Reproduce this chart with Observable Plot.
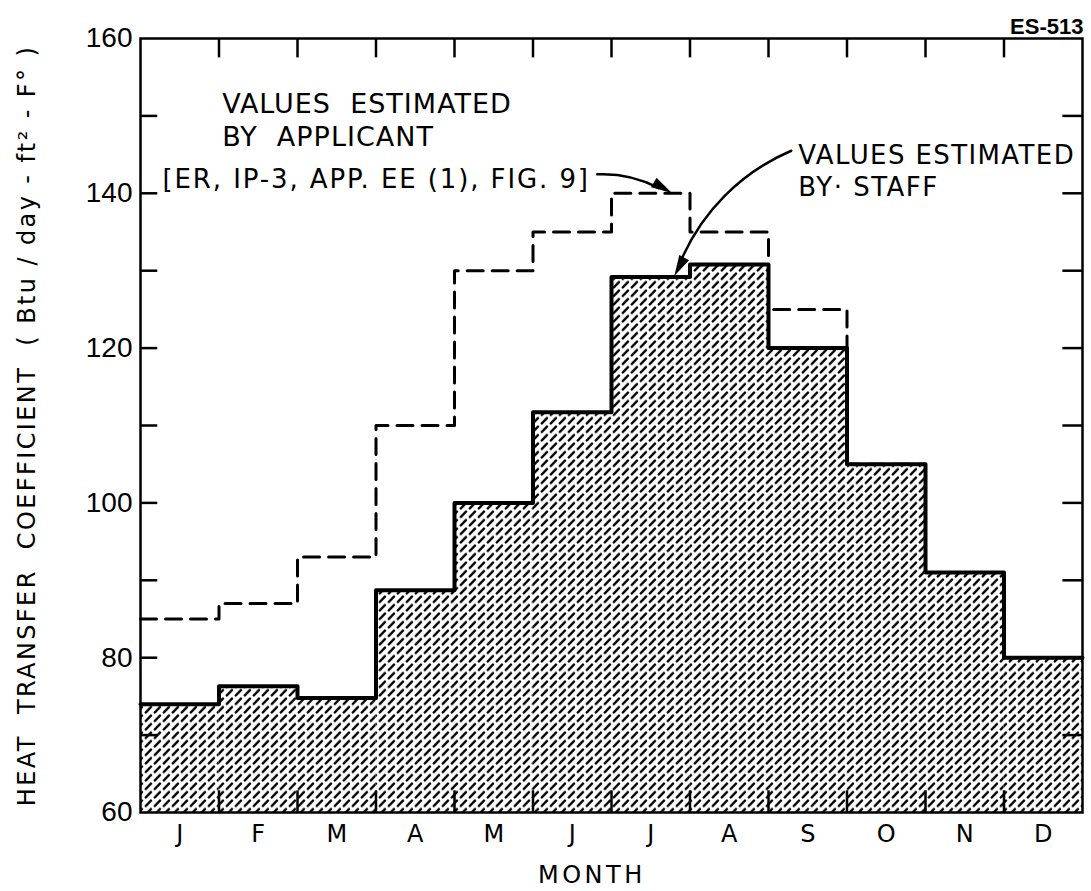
<!DOCTYPE html>
<html><head><meta charset="utf-8">
<script src="https://cdn.jsdelivr.net/npm/d3@7"></script>
<script src="https://cdn.jsdelivr.net/npm/@observablehq/plot@0.6"></script>
<style>body{margin:0;background:#fff} svg text{white-space:pre}</style>
</head><body><div id="chart"></div>
<script>
// ---- data ----
const months = ["J","F","M","A","M","J","J","A","S","O","N","D"];
const staffValues = [74, 76.3, 74.8, 88.7, 100, 111.7, 129.2, 130.8, 120, 105, 91, 80];
const applicantValues = [85, 87, 93, 110, 130, 135, 140, 135, 125, 105, 91, 80];
const yTickLabels = [60, 80, 100, 120, 140, 160];
const yMinorTicks = [70, 80, 90, 100, 110, 120, 130, 140, 150];
const monthBoundaries = [1,2,3,4,5,6,7,8,9,10,11];

// ---- derived tables ----
const idx = d3.range(months.length);
const staffRects = idx.map(i => ({x1: i, x2: i + 1, y: staffValues[i]}));
const stepOf = vals => [...idx.map(i => ({x: i, y: vals[i]})), {x: months.length, y: vals[vals.length - 1]}];
const staffStep = stepOf(staffValues);
const applicantStep = stepOf(applicantValues);

const FONT = "'Liberation Sans', Arial, sans-serif";
const LETTER = "'DejaVu Sans', Verdana, sans-serif";

// filled, elongated arrowhead (tip at origin, pointing up before rotation)
const arrowHead = {draw(ctx) { ctx.moveTo(0, 0); ctx.lineTo(-5.5, 21); ctx.lineTo(5.5, 21); ctx.closePath(); }};

const TITLE = "HEAT  TRANSFER  COEFFICIENT  ( Btu / day - ft² - F° )";
const spacing = new Map([
  [TITLE, 2.4],
  ["MONTH", 3.5],
  ["VALUES  ESTIMATED", 1],
  ["BY  APPLICANT", 1],
  ["[ER, IP-3, APP. EE (1), FIG. 9]", 1.9],
  ["VALUES ESTIMATED", 1.4],
  ["BY· STAFF", 1.5]
]);

const plot = Plot.plot({
  width: 1091, height: 891,
  marginLeft: 140, marginRight: 9, marginTop: 38, marginBottom: 79,
  x: {domain: [0, 12], axis: null},
  y: {domain: [60, 160], axis: null},
  style: {fontFamily: FONT, background: "white", color: "black", overflow: "visible"},
  marks: [
    Plot.rect(staffRects, {x1: "x1", x2: "x2", y1: 60, y2: "y", fill: "url(#hatch)"}),
    Plot.line(applicantStep, {x: "x", y: "y", curve: "step-after", stroke: "black", strokeWidth: 3, strokeDasharray: "16,9"}),
    Plot.line(staffStep, {x: "x", y: "y", curve: "step-after", stroke: "black", strokeWidth: 4}),
    Plot.frame({stroke: "black", strokeWidth: 2.5}),
    Plot.ruleX(monthBoundaries, {x: d => d, y1: 60, y2: 62.8, stroke: "black", strokeWidth: 2.5}),
    Plot.ruleX(monthBoundaries, {x: d => d, y1: 160, y2: 157.5, stroke: "black", strokeWidth: 2.5}),
    Plot.ruleY(yMinorTicks, {y: d => d, x1: 0, x2: 0.22, stroke: "black", strokeWidth: 2.5}),
    Plot.ruleY(yMinorTicks, {y: d => d, x1: 12, x2: 11.75, stroke: "black", strokeWidth: 2.5}),
    Plot.axisY(yTickLabels, {anchor: "left", tickSize: 0, tickPadding: 8, fontSize: 28, tickFormat: d => String(d)}),
    Plot.axisX(idx.map(i => i + 0.5), {anchor: "bottom", tickSize: 0, tickPadding: 12, fontSize: 24, fontFamily: LETTER, tickFormat: d => months[Math.floor(d)]}),
    Plot.text(["MONTH"], {x: 5.75, frameAnchor: "bottom", dy: 70, fontSize: 24, fontFamily: LETTER}),
    Plot.text([TITLE], {frameAnchor: "left", y: 110, dx: -113, rotate: -90, textAnchor: "middle", fontSize: 24, fontFamily: LETTER}),
    Plot.text(["VALUES  ESTIMATED"], {x: 1.04, y: 151.5, textAnchor: "start", fontSize: 27, fontFamily: LETTER}),
    Plot.text(["BY  APPLICANT"], {x: 1.04, y: 147.2, textAnchor: "start", fontSize: 27, fontFamily: LETTER}),
    Plot.text(["[ER, IP-3, APP. EE (1), FIG. 9]"], {x: 0.28, y: 141.8, textAnchor: "start", fontSize: 26, fontFamily: LETTER}),
    Plot.text(["VALUES ESTIMATED"], {x: 8.38, y: 144.9, textAnchor: "start", fontSize: 26, fontFamily: LETTER}),
    Plot.text(["BY· STAFF"], {x: 8.38, y: 140.75, textAnchor: "start", fontSize: 26, fontFamily: LETTER}),
    Plot.text(["ES-513"], {frameAnchor: "top-right", dy: -20, dx: 1, textAnchor: "end", fontSize: 22, fontWeight: "bold"}),
    Plot.arrow([{x1: 5.82, y1: 142.45, x2: 6.6, y2: 140.7}], {x1: "x1", y1: "y1", x2: "x2", y2: "y2", bend: 15, stroke: "black", strokeWidth: 2.5, headLength: 0}),
    Plot.dot([{x: 6.77, y: 140.05}], {x: "x", y: "y", symbol: arrowHead, rotate: 120, fill: "black", stroke: "none"}),
    Plot.arrow([{x1: 8.29, y1: 145.5, x2: 6.88, y2: 131.2}], {x1: "x1", y1: "y1", x2: "x2", y2: "y2", bend: -22, stroke: "black", strokeWidth: 2.5, headLength: 0}),
    Plot.dot([{x: 6.8, y: 129.3}], {x: "x", y: "y", symbol: arrowHead, rotate: 208, fill: "black", stroke: "none"})
  ]
});

// letter spacing of the hand-lettered texts
d3.select(plot).selectAll("text").each(function() {
  const s = spacing.get(this.textContent);
  if (s != null) this.style.letterSpacing = s + "px";
});

// hatch pattern used by the staff area
const defs = d3.select(plot).insert("defs", ":first-child");
const pat = defs.append("pattern").attr("id", "hatch").attr("patternUnits", "userSpaceOnUse")
  .attr("width", 9).attr("height", 8.5);
pat.append("rect").attr("width", 9).attr("height", 8.5).attr("fill", "white");
pat.append("line").attr("x1", 1.8).attr("y1", 7).attr("x2", 7).attr("y2", 1.6)
  .attr("stroke", "black").attr("stroke-width", 2.4).attr("stroke-linecap", "round");

document.getElementById("chart").appendChild(plot);
</script>
</body></html>
